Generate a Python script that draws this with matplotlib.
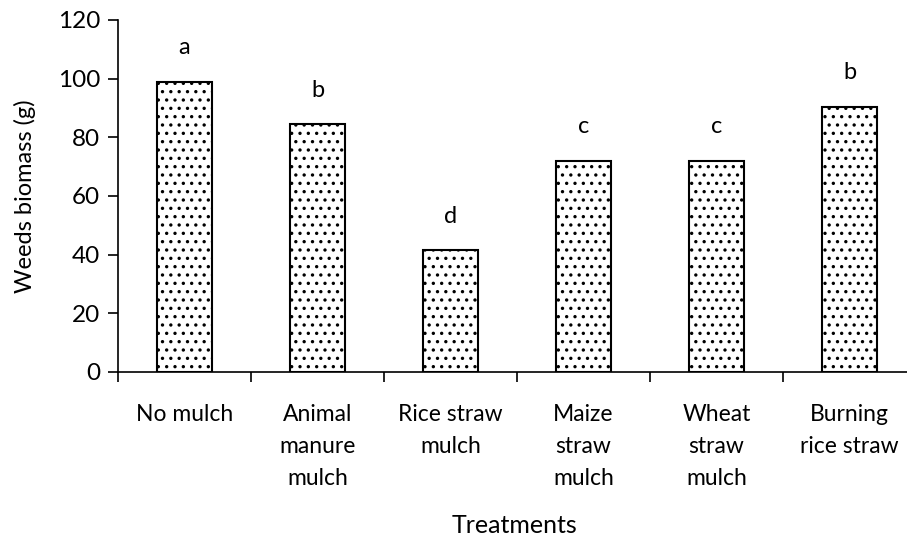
import matplotlib
matplotlib.use("Agg")
import matplotlib.pyplot as plt
import numpy as np

categories = ["No mulch", "Animal\nmanure\nmulch", "Rice straw\nmulch",
              "Maize\nstraw\nmulch", "Wheat\nstraw\nmulch", "Burning\nrice straw"]
values = [99, 84.5, 41.5, 72, 72, 90.5]
letters = ["a", "b", "d", "c", "c", "b"]
yticks = [0, 20, 40, 60, 80, 100, 120]

plt.rcParams['font.family'] = ['Lato', 'DejaVu Sans']
plt.rcParams['hatch.color'] = '#555555'
plt.rcParams['hatch.linewidth'] = 1.2

fig = plt.figure(figsize=(9.07, 5.4), dpi=100)
ax = fig.add_axes([118/907, 1-372/540, 1-118/907, (372-20)/540])

x = np.arange(len(categories))
ax.bar(x, values, width=0.42, color='white', edgecolor='black', linewidth=1.5, hatch='..')
for xi, v, l in zip(x, values, letters):
    ax.text(xi, v + 8, l, ha='center', va='bottom', fontsize=17)

ax.set_ylim(0, 120)
ax.set_xlim(-0.5, (907-118)/133 - 0.5)
ax.set_yticks(yticks)
ax.set_xticks(np.arange(len(categories)) - 0.5)
ax.set_xticklabels([])
ax.set_xticks(x, minor=True)
ax.set_xticklabels(categories, minor=True, fontsize=16.5, linespacing=1.65, va='top')
ax.tick_params(axis='x', which='minor', length=0, pad=23)
ax.tick_params(axis='x', which='major', length=7, width=1.2, direction='out')
ax.tick_params(axis='y', length=7, width=1.2, direction='out', labelsize=17.5, pad=6)
for s in ['top', 'right']:
    ax.spines[s].set_visible(False)
for s in ['left', 'bottom']:
    ax.spines[s].set_linewidth(1.2)

ax.set_ylabel("Weeds biomass (g)", fontsize=17, va='center')
ax.yaxis.set_label_coords(-(118-25)/789, 0.5)
ax.set_xlabel("Treatments", fontsize=18, va='baseline')
ax.xaxis.set_label_coords((515-118)/789, (372-533)/352)

fig.savefig("out.png", dpi=100)
